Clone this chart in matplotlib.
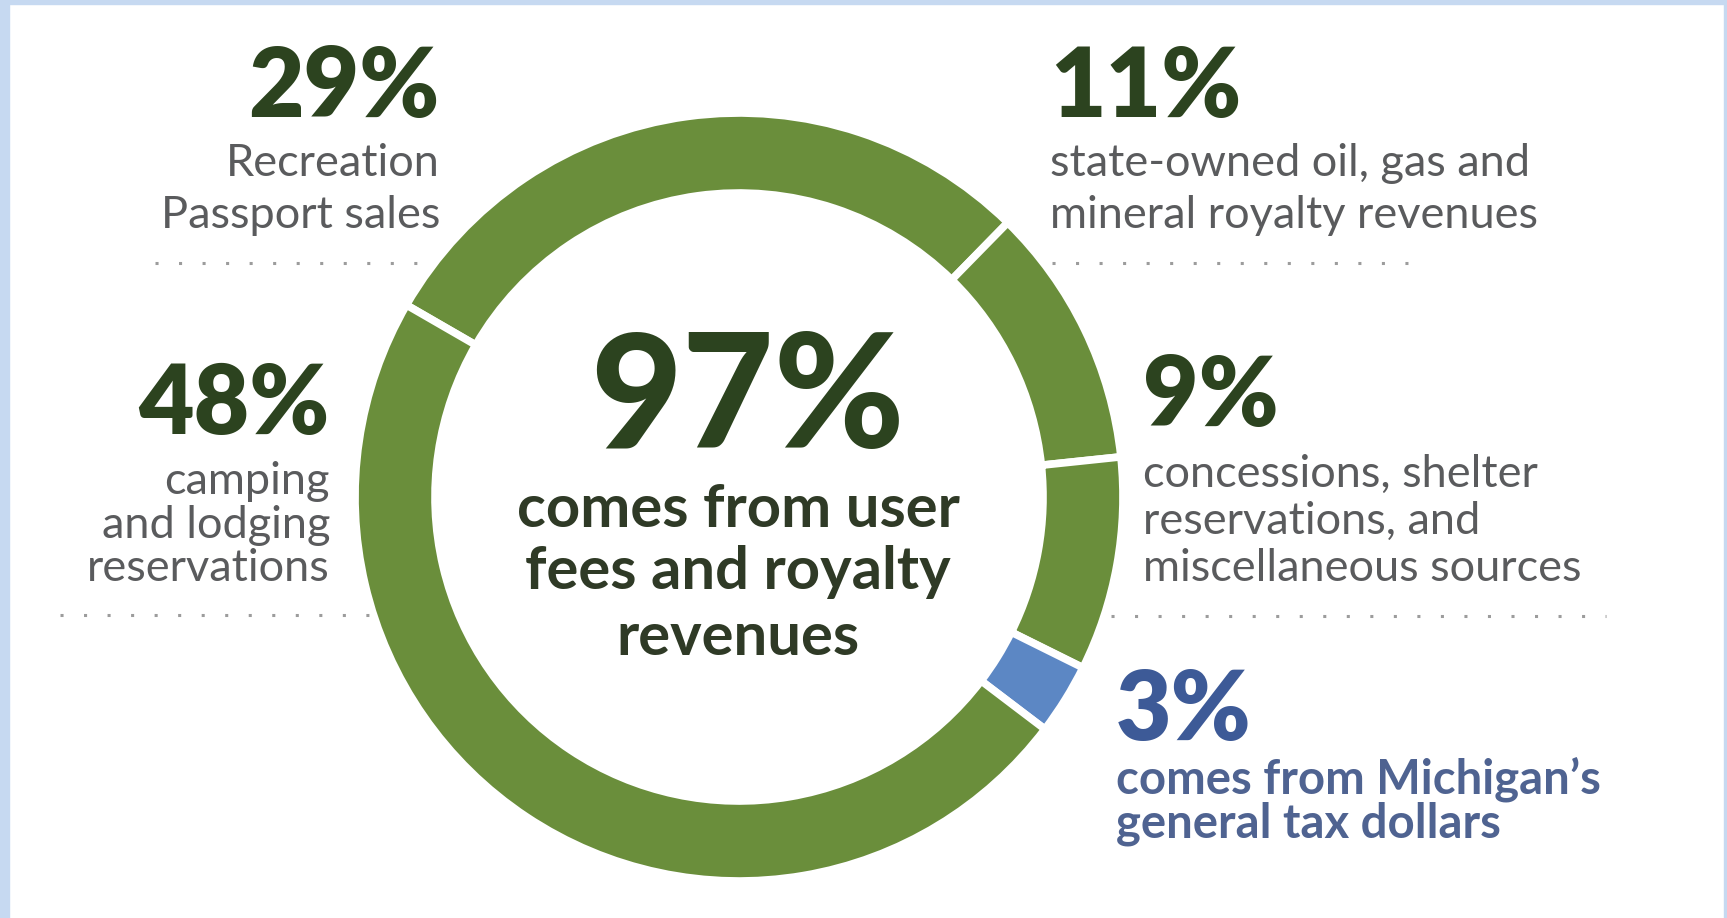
import matplotlib
matplotlib.use("Agg")
import matplotlib.pyplot as plt
from matplotlib.patches import Rectangle

# ---- data ----
categories = ["Recreation Passport sales",
              "state-owned oil, gas and mineral royalty revenues",
              "concessions, shelter reservations, and miscellaneous sources",
              "Michigan's general tax dollars",
              "camping and lodging reservations"]
shares = [29, 11, 9, 3, 48]
pct_labels = ["29%", "11%", "9%", "3%", "48%"]
desc_labels = [["Recreation", "Passport sales"],
               ["state-owned oil, gas and", "mineral royalty revenues"],
               ["concessions, shelter", "reservations, and", "miscellaneous sources"],
               ["comes from Michigan\u2019s", "general tax dollars"],
               ["camping", "and lodging", "reservations"]]
center_pct = "97%"
center_lines = ["comes from user", "fees and royalty", "revenues"]

W, H = 1727, 918
GREEN = "#6a8e3b"
BLUE = "#5c87c4"
DARK = "#2c431f"
GRAY = "#5a5b5d"
BLUE_TXT = "#3d5a97"
BLUE_LBL = "#4f6391"
DOT = "#9c9c9c"

plt.rcParams['font.family'] = ['Lato', 'DejaVu Sans']

fig = plt.figure(figsize=(W / 100, H / 100), dpi=100)
ax = fig.add_axes([0, 0, 1, 1])

def Y(y):
    return H - y

cx, cy = 739, 497
ax.pie(shares, colors=[GREEN, GREEN, GREEN, BLUE, GREEN], startangle=150,
       counterclock=False, center=(cx, Y(cy)), radius=384,
       wedgeprops=dict(width=80, edgecolor="white", linewidth=5.5))

ax.set_xlim(0, W)
ax.set_ylim(0, H)
ax.set_aspect("equal")
ax.axis("off")

# border
fig.patches.append(Rectangle((0, 0), 9 / W, 1, transform=fig.transFigure,
                             color="#c6d9f1", zorder=10))
fig.patches.append(Rectangle((0, 1 - 4 / H), 1, 4 / H, transform=fig.transFigure,
                             color="#c6d9f1", zorder=10))
fig.patches.append(Rectangle((1 - 3 / W, 0), 3 / W, 1, transform=fig.transFigure,
                             color="#c6d9f1", zorder=10))

PCT_FS = 69
LBL_FS = 32.5

def block(x, y_pct, ys, pct, lines, ha, pc, lc, lw_weight="normal", lfs=LBL_FS):
    ax.text(x, Y(y_pct), pct, ha=ha, va="baseline", fontsize=PCT_FS,
            fontweight="heavy", color=pc)
    for yy, t in zip(ys, lines):
        ax.text(x, Y(yy), t, ha=ha, va="baseline", fontsize=lfs,
                fontweight=lw_weight, color=lc)

# 29% block (top-left)
block(440, 117, [176, 228], pct_labels[0], desc_labels[0], "right", DARK, GRAY)
# 11% block (top-right)
block(1050, 117, [176, 228], pct_labels[1], desc_labels[1], "left", DARK, GRAY)
# 9% block (right)
block(1143, 426, [487, 534, 581], pct_labels[2], desc_labels[2], "left", DARK, GRAY)
# 3% block (bottom-right)
block(1116, 740, [793, 838], pct_labels[3], desc_labels[3], "left", BLUE_TXT,
      BLUE_LBL, lw_weight="bold", lfs=34)
# 48% block (left)
block(330, 434, [494, 538, 581], pct_labels[4], desc_labels[4], "right", DARK, GRAY)

# dotted separators
def dots(x0, x1, y):
    ax.plot([x0, x1], [Y(y), Y(y)], color=DOT, lw=2.2,
            linestyle=(0, (1, 6.7)), dash_capstyle="butt")

dots(155, 425, 263)
dots(1052, 1408, 263)
dots(60, 374, 615)
dots(1111, 1606, 616)

# center text
ax.text(747, Y(448), center_pct, ha="center", va="baseline", fontsize=114,
        fontweight="black", color=DARK)
for yy, t in zip([527, 589, 655], center_lines):
    ax.text(738, Y(yy), t, ha="center", va="baseline", fontsize=43,
            fontweight="bold", color="#2f3a26")

fig.savefig("out.png", dpi=100, facecolor="white")
